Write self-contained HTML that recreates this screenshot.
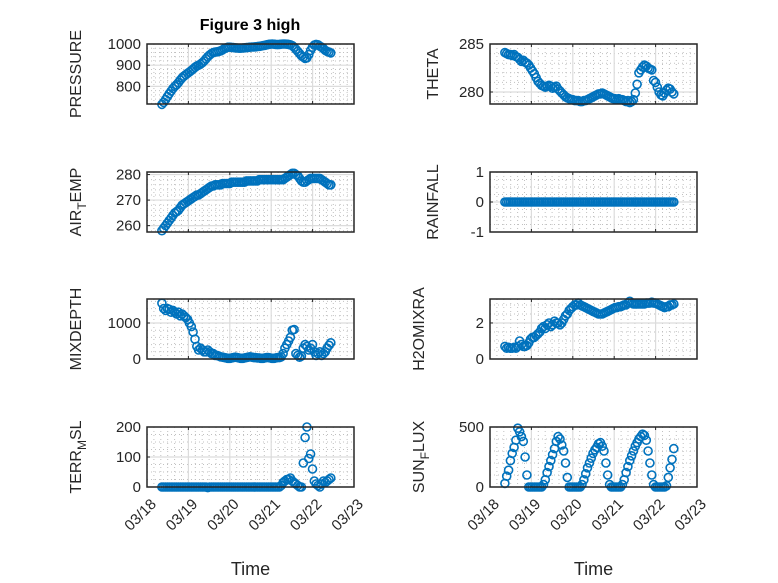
<!DOCTYPE html>
<html><head><meta charset="utf-8">
<style>
html,body{margin:0;padding:0;background:#fff;}
svg{display:block;font-family:"Liberation Sans",sans-serif;}
</style></head>
<body>
<svg id="fig" width="778" height="583" viewBox="0 0 778 583" xmlns="http://www.w3.org/2000/svg">
<rect x="0" y="0" width="778" height="583" fill="#fff"/>
<text x="250" y="30" text-anchor="middle" font-size="16" font-weight="bold" fill="#000">Figure 3 high</text>
</svg>
<script>
const xTickLabels = ["03/18","03/19","03/20","03/21","03/22","03/23"];
const tStart = 18.36, tEnd = 22.44;
const pressure = [715,725,738,752,765,778,790,800,808,818,830,840,848,855,862,868,
875,882,890,896,900,905,912,920,930,940,948,955,960,962,963,965,
968,972,978,982,985,985,984,983,982,981,980,980,981,982,983,984,
985,986,986,987,988,989,990,992,994,996,998,999,1000,999,998,997,
998,999,1000,1000,999,998,996,992,985,975,965,955,945,938,932,935,
950,970,985,995,998,996,990,985,978,970,965,962,958];
const theta = [284.1,284.0,283.9,283.9,283.8,283.9,283.7,283.6,283.4,283.2,283.3,283.1,283.0,282.8,282.5,282.2,
281.9,281.5,281.1,280.9,280.7,280.6,280.5,280.6,280.7,280.6,280.4,280.5,280.6,280.3,280.1,279.9,
279.7,279.5,279.4,279.3,279.2,279.2,279.1,279.1,279.1,279.0,279.0,279.1,279.1,279.2,279.3,279.4,
279.5,279.6,279.7,279.8,279.8,279.9,279.8,279.7,279.6,279.5,279.4,279.3,279.3,279.2,279.3,279.2,
279.2,279.1,279.0,279.1,278.9,279.0,279.2,279.9,280.8,282.0,282.3,282.6,282.8,282.7,282.5,282.4,
282.3,281.2,281.0,280.5,280.0,279.7,279.6,279.9,280.2,280.4,280.3,280.0,279.8];
const airTemp = [258,259,260,261,262,263,264,265,265.5,266,267,268,268.5,269,269.5,270,
270.5,271,271.5,272,272,272.5,273,273.5,274,274.5,275,275.5,275.5,276,276,276,
276,276.5,276.5,276.5,276.5,276.5,277,277,277,277,277,277,277,277,277.5,277.5,
277.5,277.5,277.5,277.5,277.5,278,278,278,278,278,278,278,278,278,278,278,
278,278,278,278.5,279,279.5,280,280.5,280.5,280,279.5,278.5,277.5,277,277,277.5,
278,278.5,278.5,278.5,278.5,278.5,278.5,278,277.5,277,276.5,276,276];
const rainfall = [0,0,0,0,0,0,0,0,0,0,0,0,0,0,0,0,0,0,0,0,0,0,0,0,0,0,0,0,0,0,0,0,
0,0,0,0,0,0,0,0,0,0,0,0,0,0,0,0,0,0,0,0,0,0,0,0,0,0,0,0,0,0,0,0,
0,0,0,0,0,0,0,0,0,0,0,0,0,0,0,0,0,0,0,0,0,0,0,0,0,0,0,0,0];
const mixDepth = [1550,1400,1350,1400,1380,1300,1350,1300,1250,1300,1200,1250,1200,1150,1100,1000,
900,750,550,350,250,300,250,200,200,250,200,150,150,100,100,80,
60,50,40,30,20,20,30,40,50,40,30,20,20,30,40,50,
60,50,40,40,30,30,20,20,30,40,40,30,20,20,30,40,
40,60,150,300,400,500,600,800,820,150,100,50,80,300,400,350,
250,300,400,200,100,150,200,100,150,200,300,380,450];
const h2oMix = [0.7,0.6,0.65,0.6,0.6,0.65,0.6,0.7,1.0,0.8,0.7,0.7,0.75,0.9,1.1,1.2,
1.2,1.3,1.4,1.5,1.7,1.8,1.7,1.9,2.0,1.8,1.9,2.1,2.0,2.0,1.9,2.0,
2.2,2.4,2.5,2.7,2.8,2.9,3.0,3.0,3.1,3.0,2.95,2.9,2.85,2.8,2.75,2.7,
2.65,2.6,2.55,2.5,2.5,2.5,2.55,2.6,2.65,2.7,2.75,2.8,2.85,2.85,2.9,2.9,
2.95,3.0,3.0,3.1,3.2,3.1,3.05,3.05,3.05,3.05,3.05,3.05,3.05,3.1,3.1,3.1,
3.15,3.1,3.1,3.05,3.0,2.95,2.9,2.85,2.9,2.9,3.0,3.0,3.05];
const terrMsl = [0,0,0,0,0,0,0,0,0,0,0,0,0,0,0,0,0,0,0,0,0,0,0,0,0,-2,0,0,0,0,0,0,
0,0,0,0,0,0,0,0,0,0,0,0,0,0,0,0,0,0,0,0,0,0,0,0,0,0,0,0,0,0,0,0,
0,5,15,20,25,25,30,20,15,10,5,0,0,
80,165,200,95,110,60,20,10,5,0,10,20,15,20,25,30];
const sunFlux = [30,90,140,220,280,330,390,490,460,420,380,250,100,0,0,0,
0,0,0,0,0,20,60,120,170,220,270,320,380,420,400,350,
300,200,80,0,0,0,0,0,0,0,20,60,110,160,200,240,
280,310,330,360,370,340,300,200,100,20,0,0,0,0,0,0,
20,60,120,170,220,260,300,340,370,400,420,440,430,390,300,200,
100,20,0,0,0,0,0,0,10,80,160,230,320];
const pressureTicks=[800,900,1000], thetaTicks=[280,285], airTicks=[260,270,280], rainTicks=[-1,0,1],
      mixTicks=[0,1000], h2oTicks=[0,2], terrTicks=[0,100,200], sunTicks=[0,500];

const NS="http://www.w3.org/2000/svg";
const svg=document.getElementById('fig');
function mk(tag,attrs,parent){const e=document.createElementNS(NS,tag);for(const k in attrs)e.setAttribute(k,attrs[k]);(parent||svg).appendChild(e);return e;}

const panels=[
 {name:'pressure',x:147,y:44,ylim:[717,1000],ticks:pressureTicks,minor:20,data:pressure,label:['PRESSURE']},
 {name:'theta',x:490,y:44,ylim:[278.75,285],ticks:thetaTicks,minor:1,data:theta,label:['THETA']},
 {name:'air-temp',x:147,y:172,ylim:[257.5,281],ticks:airTicks,minor:2,data:airTemp,label:['AIR','T','EMP']},
 {name:'rainfall',x:490,y:172,ylim:[-1,1],ticks:rainTicks,minor:0.25,data:rainfall,label:['RAINFALL']},
 {name:'mixdepth',x:147,y:299,ylim:[0,1667],ticks:mixTicks,minor:200,data:mixDepth,label:['MIXDEPTH']},
 {name:'h2omixra',x:490,y:299,ylim:[0,3.33],ticks:h2oTicks,minor:0.5,data:h2oMix,label:['H2OMIXRA']},
 {name:'terr-msl',x:147,y:427,ylim:[0,200],ticks:terrTicks,minor:25,data:terrMsl,label:['TERR','M','SL'],xlab:true},
 {name:'sun-flux',x:490,y:427,ylim:[0,500],ticks:sunTicks,minor:100,data:sunFlux,label:['SUN','F','LUX'],xlab:true}
];
const W=207,H=60;
panels.forEach(p=>{
  const g=mk('g',{});
  
  
  const xs=d=>p.x+(d-18)/5*W;
  const ys=v=>p.y+H-(v-p.ylim[0])/(p.ylim[1]-p.ylim[0])*H;
  for(let k=0;k<30;k++){const xx=p.x+k*W/30; if(k%6)mk('line',{x1:xx,x2:xx,y1:p.y,y2:p.y+H,stroke:'#c0c0c0','stroke-width':1,'stroke-dasharray':'1,3'},g);}
  let start=Math.ceil(p.ylim[0]/p.minor)*p.minor;
  for(let v=start;v<=p.ylim[1]+1e-9;v+=p.minor){ if(p.ticks.some(t=>Math.abs(t-v)<1e-6))continue; const yy=ys(v); mk('line',{x1:p.x,x2:p.x+W,y1:yy,y2:yy,stroke:'#c0c0c0','stroke-width':1,'stroke-dasharray':'1,3'},g);}
  for(let k=1;k<5;k++){const xx=p.x+k*W/5; mk('line',{x1:xx,x2:xx,y1:p.y,y2:p.y+H,stroke:'#dcdcdc','stroke-width':1.2},g);}
  p.ticks.forEach(t=>{const yy=ys(t); mk('line',{x1:p.x,x2:p.x+W,y1:yy,y2:yy,stroke:'#dcdcdc','stroke-width':1.2},g);
    mk('line',{x1:p.x,x2:p.x+3,y1:yy,y2:yy,stroke:'#262626'},g);
    const tl=mk('text',{x:p.x-6,y:yy+5,'text-anchor':'end','font-size':15,fill:'#262626'},g); tl.textContent=t;
    
    });
  for(let k=1;k<5;k++){const xx=p.x+k*W/5; mk('line',{x1:xx,x2:xx,y1:p.y+H,y2:p.y+H-3,stroke:'#262626'},g);mk('line',{x1:xx,x2:xx,y1:p.y,y2:p.y+3,stroke:'#262626'},g);}
  const n=p.data.length;
  p.data.forEach((v,i)=>{const t=tStart+i*(tEnd-tStart)/(n-1);
    const c=mk('circle',{cx:xs(t).toFixed(1),cy:ys(v).toFixed(1),r:4,fill:'none',stroke:'#0072BD','stroke-width':1.6},g);
    
    });
  mk('rect',{x:p.x,y:p.y,width:W,height:H,fill:'none',stroke:'#262626','stroke-width':1.5},g);
  const lx=p.x-(p.name==='theta'||p.name==='rainfall'?52:66);
  const lab=mk('text',{x:lx,y:p.y+H/2,'text-anchor':'middle','font-size':16,fill:'#262626',transform:`rotate(-90 ${lx} ${p.y+H/2})`},g);
  
  
  if(p.label.length===1){lab.textContent=p.label[0];}
  else{const a=mk('tspan',{},lab);a.textContent=p.label[0];
    const b=mk('tspan',{dy:5,'font-size':12},lab);b.textContent=p.label[1];
    const c=mk('tspan',{dy:-5},lab);c.textContent=p.label[2];}
  if(p.xlab){
    xTickLabels.forEach((s,k)=>{const xx=p.x+k*W/5+10, yy=p.y+H+18;
      const tl=mk('text',{x:xx,y:yy,'text-anchor':'end','font-size':15,fill:'#262626',transform:`rotate(-45 ${xx} ${yy})`},g);
      tl.textContent=s;
      
      });
    const xl=mk('text',{x:p.x+W/2,y:575,'text-anchor':'middle','font-size':18,fill:'#262626'},g);
    xl.textContent='Time';
    
    
  }
});
</script>
</body></html>
